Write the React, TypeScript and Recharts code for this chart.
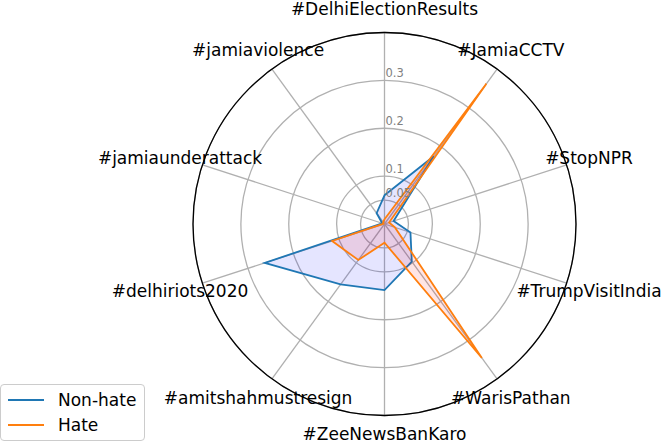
import React from 'react';
import {
  RadarChart,
  Radar,
  PolarGrid,
  PolarAngleAxis,
  PolarRadiusAxis,
} from 'recharts';

const categories = [
  '#DelhiElectionResults',
  '#JamiaCCTV',
  '#StopNPR',
  '#TrumpVisitIndia',
  '#WarisPathan',
  '#ZeeNewsBanKaro',
  '#amitshahmustresign',
  '#delhiriots2020',
  '#jamiaunderattack',
  '#jamiaviolence',
];
const nonHate = [0.06, 0.175, 0.02, 0.057, 0.097, 0.138, 0.156, 0.263, 0.005, 0.028];
const hate = [0.01, 0.362, 0.01, 0.023, 0.346, 0.039, 0.093, 0.115, 0.002, 0.005];
const radiusTicks = [0.05, 0.1, 0.2, 0.3, 0.4];
const seriesNames = ['Non-hate', 'Hate'];

const data = categories.map((tag, i) => ({
  tag,
  nonHate: nonHate[i],
  hate: hate[i],
}));

const CX = 384.5;
const CY = 224;
const R = 191.5;
const FONT = '"DejaVu Sans", sans-serif';
const BLUE = '#1f77b4';
const ORANGE = '#ff7f0e';

// labels sit on a ring outside the black circle, centred on their spoke
function AngleTick(props: any) {
  const a = (props.payload.coordinate * Math.PI) / 180;
  const r = 215;
  const x = CX + r * Math.cos(a);
  const y = Math.min(CY - r * Math.sin(a), 434);
  return (
    <text x={x} y={y} dy="0.36em" textAnchor="middle" fontSize={17} fill="#000" fontFamily={FONT}>
      {props.payload.value}
    </text>
  );
}

function RadiusTick(props: any) {
  const v = props.payload.value;
  if (v >= 0.4) return <g />;
  return (
    <text x={props.x + 1} y={props.y - 3} fontSize={11.5} fill="#808080" fontFamily={FONT}>
      {String(v)}
    </text>
  );
}

export default function App() {
  const colors = [BLUE, ORANGE];
  return (
    <div style={{ position: 'absolute', left: 0, top: 0, width: 664, height: 444, background: '#fff' }}>
      <RadarChart
        width={664}
        height={444}
        data={data}
        cx={CX}
        cy={CY}
        outerRadius={R}
        margin={{ top: 0, right: 0, bottom: 0, left: 0 }}
      >
        <PolarGrid gridType="circle" stroke="#b0b0b0" strokeWidth={1.3} />
        <PolarAngleAxis
          dataKey="tag"
          axisLineType="circle"
          axisLine={{ stroke: '#000', strokeWidth: 1.3 }}
          tickLine={false}
          tick={AngleTick}
        />
        <PolarRadiusAxis
          angle={90}
          domain={[0, 0.4]}
          ticks={radiusTicks}
          axisLine={false}
          tickLine={false}
          tick={RadiusTick}
        />
        <Radar
          name={seriesNames[0]}
          dataKey="nonHate"
          stroke={BLUE}
          strokeWidth={1.8}
          fill="#0000ff"
          fillOpacity={0.1}
          dot={false}
          isAnimationActive={false}
        />
        <Radar
          name={seriesNames[1]}
          dataKey="hate"
          stroke={ORANGE}
          strokeWidth={1.8}
          fill="#ff0000"
          fillOpacity={0.1}
          dot={false}
          isAnimationActive={false}
        />
      </RadarChart>
      <div
        style={{
          position: 'absolute',
          left: 0,
          top: 384,
          width: 143,
          height: 55,
          border: '1px solid #cccccc',
          borderRadius: 4,
          background: 'rgba(255,255,255,0.8)',
          fontFamily: FONT,
          fontSize: 17,
          color: '#000',
        }}
      >
        {seriesNames.map((name, i) => (
          <div key={name} style={{ position: 'absolute', left: 0, top: 4 + i * 25, height: 22, display: 'flex', alignItems: 'center' }}>
            <svg width={50} height={22} style={{ display: 'block' }}>
              <line x1={7} x2={43} y1={11} y2={11} stroke={colors[i]} strokeWidth={2} />
            </svg>
            <span style={{ marginLeft: 7, lineHeight: '22px' }}>{name}</span>
          </div>
        ))}
      </div>
    </div>
  );
}
